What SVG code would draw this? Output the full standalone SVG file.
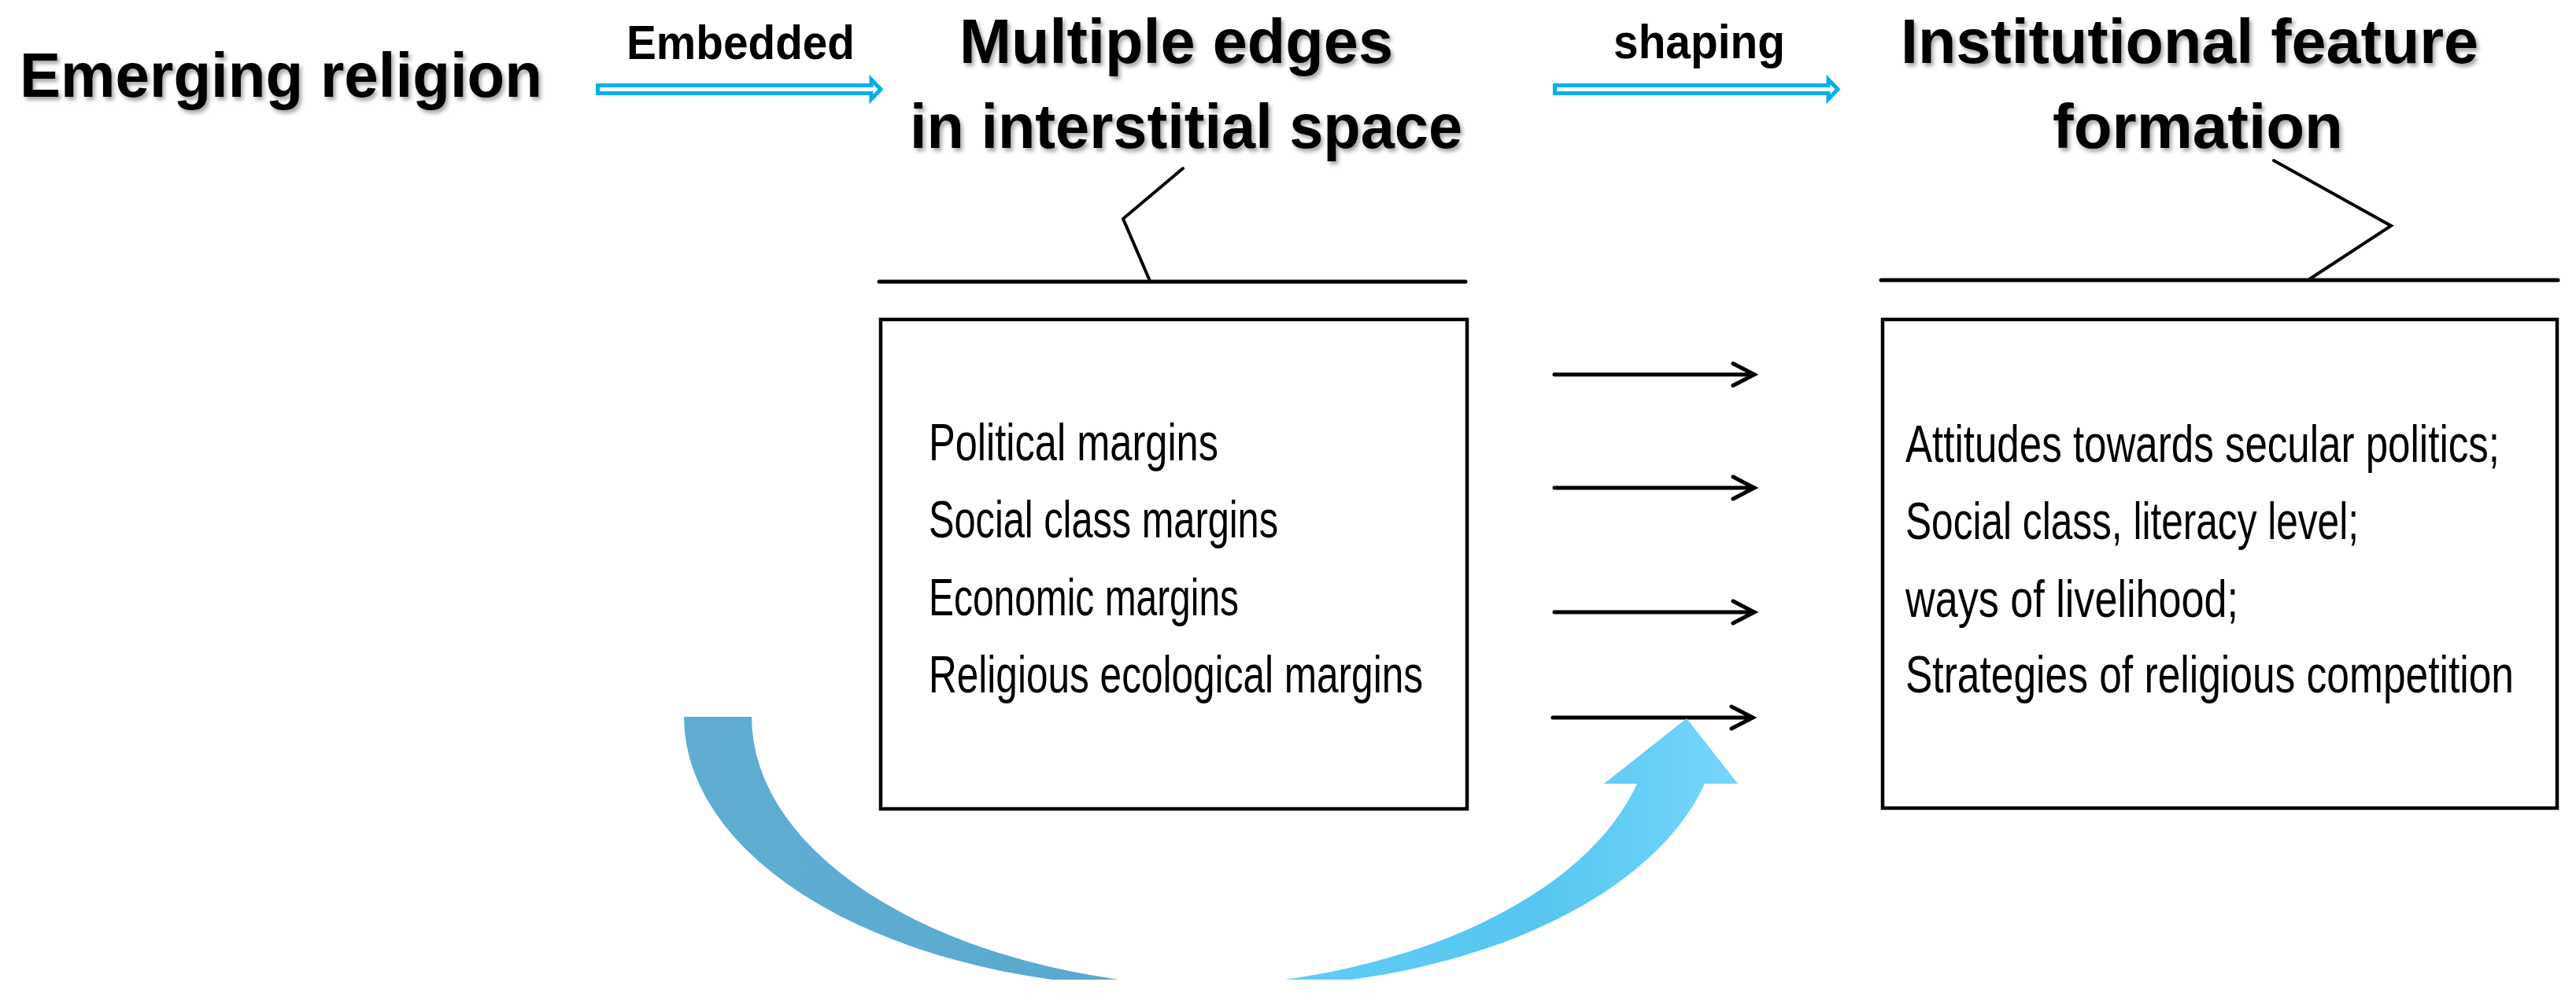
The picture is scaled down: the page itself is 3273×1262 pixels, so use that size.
<svg xmlns="http://www.w3.org/2000/svg" width="3273" height="1262" viewBox="0 0 3273 1262">
  <style>
    .title { font-family: "Liberation Sans", Arial, sans-serif; font-weight: bold; font-size: 80px; fill: #000; }
    .label { font-family: "Liberation Sans", Arial, sans-serif; font-weight: bold; font-size: 62px; fill: #000; }
    .item { font-family: "Liberation Sans", Arial, sans-serif; font-size: 66px; fill: #000; }
    .rule { stroke: #000; stroke-width: 5; fill: none; stroke-linecap: round; stroke-linejoin: miter; }
    .callout { stroke: #000; stroke-width: 4; fill: none; stroke-linecap: round; stroke-linejoin: miter; }
    .box { fill: #fff; stroke: #000; stroke-width: 4.5; }
    .arrow { stroke: #000; stroke-width: 5; fill: none; stroke-linecap: round; stroke-linejoin: miter; }
    .dbl { fill: #fff; stroke: #00B0EA; stroke-width: 5; stroke-linejoin: miter; }
  </style>
  <defs>
    <filter id="shadow" x="-5%" y="-20%" width="110%" height="150%">
      <feDropShadow dx="3" dy="4" stdDeviation="2.5" flood-color="#000" flood-opacity="0.35"/>
    </filter>
    <linearGradient id="curveGrad" gradientUnits="userSpaceOnUse" x1="869" y1="0" x2="2210" y2="0">
      <stop offset="0" stop-color="#61ADD2"/>
      <stop offset="0.43" stop-color="#58A9CF"/>
      <stop offset="0.55" stop-color="#64CDF6"/>
      <stop offset="0.8" stop-color="#55C6F0"/>
      <stop offset="1" stop-color="#76D6FC"/>
    </linearGradient>
    <clipPath id="bottomClip">
      <rect x="0" y="0" width="3273" height="1245"/>
    </clipPath>
    <path id="dblArrow" class="dbl" d="M 759.5 108.5 L 1107 108.5 L 1107 101 L 1119 113.5 L 1107 126 L 1107 118.5 L 759.5 118.5 Z"/>
    <path id="blackArrow" class="arrow" d="M 0 0 L 253 0 M 227 -14 L 254 0 L 227 14"/>
  </defs>

  <rect x="0" y="0" width="3273" height="1262" fill="#fff"/>

  <g id="node-emerging-religion">
    <text class="title" x="25" y="123" textLength="664" lengthAdjust="spacingAndGlyphs" filter="url(#shadow)">Emerging religion</text>
  </g>

  <g id="node-interstitial-space">
    <text class="title" x="1219" y="80" textLength="551" lengthAdjust="spacingAndGlyphs" filter="url(#shadow)">Multiple edges</text>
    <text class="title" x="1156" y="188" textLength="702" lengthAdjust="spacingAndGlyphs" filter="url(#shadow)">in interstitial space</text>
    <polyline class="callout" points="1503,214 1427,278 1461,357"/>
    <line class="rule" x1="1117" y1="358" x2="1862" y2="358"/>
  </g>

  <g id="node-margins">
    <rect class="box" x="1119" y="406" width="745" height="622"/>
    <text class="item" x="1180" y="585" textLength="368" lengthAdjust="spacingAndGlyphs">Political margins</text>
    <text class="item" x="1180" y="683" textLength="444" lengthAdjust="spacingAndGlyphs">Social class margins</text>
    <text class="item" x="1180" y="782" textLength="394" lengthAdjust="spacingAndGlyphs">Economic margins</text>
    <text class="item" x="1180" y="880" textLength="628" lengthAdjust="spacingAndGlyphs">Religious ecological margins</text>
  </g>

  <g id="node-institutional-feature">
    <text class="title" x="2415" y="80" textLength="734" lengthAdjust="spacingAndGlyphs" filter="url(#shadow)">Institutional feature</text>
    <text class="title" x="2608" y="188" textLength="369" lengthAdjust="spacingAndGlyphs" filter="url(#shadow)">formation</text>
    <polyline class="callout" points="2889,204 3038,287 2934,355"/>
    <line class="rule" x1="2390" y1="356" x2="3250" y2="356"/>
  </g>

  <g id="node-features">
    <rect class="box" x="2392" y="406" width="857" height="621"/>
    <text class="item" x="2421" y="587" textLength="755" lengthAdjust="spacingAndGlyphs">Attitudes towards secular politics;</text>
    <text class="item" x="2421" y="685" textLength="576" lengthAdjust="spacingAndGlyphs">Social class, literacy level;</text>
    <text class="item" x="2421" y="784" textLength="423" lengthAdjust="spacingAndGlyphs">ways of livelihood;</text>
    <text class="item" x="2421" y="880" textLength="773" lengthAdjust="spacingAndGlyphs">Strategies of religious competition</text>
  </g>

  <g id="connectors">
    <g id="edge-embedded">
      <use href="#dblArrow"/>
      <text class="label" x="796" y="75" textLength="290" lengthAdjust="spacingAndGlyphs">Embedded</text>
    </g>
    <g id="edge-shaping">
      <use href="#dblArrow" transform="translate(1216,0)"/>
      <text class="label" x="2050" y="74" textLength="218" lengthAdjust="spacingAndGlyphs">shaping</text>
    </g>
    <g id="edge-margins-features">
      <use href="#blackArrow" transform="translate(1975,476)"/>
      <use href="#blackArrow" transform="translate(1975,620)"/>
      <use href="#blackArrow" transform="translate(1975,778)"/>
      <use href="#blackArrow" transform="translate(1973,912)"/>
    </g>
    <g id="edge-curved" clip-path="url(#bottomClip)" fill="url(#curveGrad)">
      <path d="M 869 911 A 615 344 0 0 0 1527 1254.2 A 615 344 0 0 1 955 911 Z"/>
      <path d="M 1527 1254.2 A 615 344 0 0 0 2080 996 L 2038 996 L 2143 913 L 2208 996 L 2166 996 A 615 344 0 0 1 1527 1254.2 Z"/>
    </g>
  </g>
</svg>
